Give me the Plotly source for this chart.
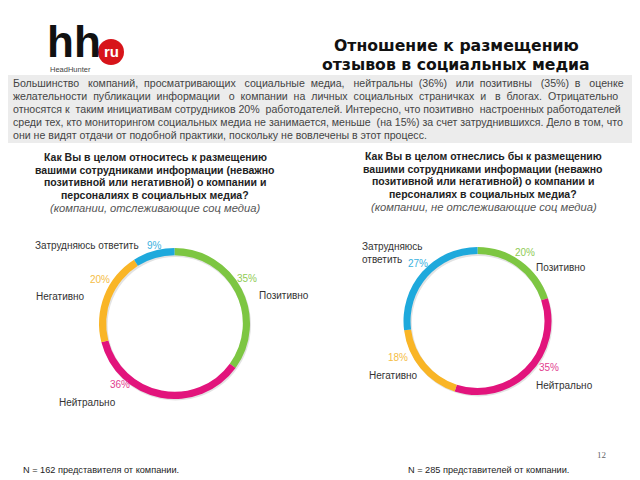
import plotly.graph_objects as go

W, H = 640, 480
OFF = 8  # page body margin of the browser


def px(x):
    return (x - OFF) / W


def py(y):
    return 1 - (y - OFF) / H


# ---------------- data ----------------
categories = ["Позитивно", "Нейтрально", "Негативно", "Затрудняюсь ответить"]
left_values = [35, 36, 20, 9]
right_values = [20, 35, 18, 27]
slice_colors = ["#7dc642", "#e2147c", "#f9b526", "#1ea9dc"]
label_colors = ["#8fcb55", "#e2408f", "#f5bd45", "#3ab2e0"]

title_lines = ["Отношение к размещению", "отзывов в социальных медиа"]
body_lines = [
    "Большинство компаний, просматривающих социальные медиа, нейтральны (36%)  или позитивны (35%) в оценке",
    "желательности публикации информации о компании на личных социальных страничках и в блогах. Отрицательно",
    "относятся к таким инициативам сотрудников 20% работодателей. Интересно, что позитивно настроенных работодателей",
    "среди тех, кто мониторингом социальных медиа не занимается, меньше (на 15%) за счет затруднившихся. Дело в том, что",
    "они не видят отдачи от подобной практики, поскольку не вовлечены в этот процесс.",
]
left_question = [
    "Как Вы в целом относитесь к размещению",
    "вашими сотрудниками информации (неважно",
    "позитивной или негативной) о компании и",
    "персоналиях в социальных медиа?",
]
left_sub = "(компании, отслеживающие соц медиа)"
right_question = [
    "Как Вы в целом отнеслись бы к размещению",
    "вашими сотрудниками информации (неважно",
    "позитивной или негативной) о компании и",
    "персоналиях в социальных медиа?",
]
right_sub = "(компании, не отслеживающие соц медиа)"
footer_left = "N = 162 представителя от компании."
footer_right = "N = 285 представителей от компании."
page_number = "12"

# ---------------- figure ----------------
fig = go.Figure()

left_dom = dict(x=[px(99), px(250)], y=[py(399), py(248)])
right_dom = dict(x=[px(403), px(552)], y=[py(395), py(247)])

# faint ring shadows
for dom in (left_dom, right_dom):
    fig.add_trace(go.Pie(
        values=[1], labels=["shadow"], sort=False, hole=0.9, textinfo="none",
        showlegend=False, hoverinfo="skip",
        marker=dict(colors=["#e3e3e3"], line=dict(width=0)),
        domain=dict(x=[dom["x"][0] + 1 / W, dom["x"][1] + 1 / W],
                    y=[dom["y"][0] - 1.5 / H, dom["y"][1] - 1.5 / H]),
    ))

fig.add_trace(go.Pie(
    values=left_values, labels=categories, sort=False, direction="clockwise",
    rotation=0, hole=0.905, textinfo="none", showlegend=False,
    marker=dict(colors=slice_colors, line=dict(width=0)),
    domain=left_dom,
))
fig.add_trace(go.Pie(
    values=right_values, labels=categories, sort=False, direction="clockwise",
    rotation=0, hole=0.905, textinfo="none", showlegend=False,
    marker=dict(colors=slice_colors, line=dict(width=0)),
    domain=right_dom,
))

shapes = [
    dict(type="rect", xref="paper", yref="paper",
         x0=px(8), x1=px(632), y0=py(143), y1=py(75),
         fillcolor="#ececec", line=dict(width=0), layer="below"),
    dict(type="circle", xref="paper", yref="paper",
         x0=px(98), x1=px(124), y0=py(65), y1=py(39),
         fillcolor="#d7141a", line=dict(width=0)),
]

ann = []


def text(x, y, s, size=10.5, color="#333333", family="Liberation Sans, Arial, sans-serif",
         xanchor="left", bold=False, italic=False, align="left"):
    t = s
    if bold:
        t = "<b>" + t + "</b>"
    if italic:
        t = "<i>" + t + "</i>"
    ann.append(dict(x=px(x), y=py(y), xref="paper", yref="paper", text=t,
                    showarrow=False, xanchor=xanchor, yanchor="middle", align=align,
                    font=dict(size=size, color=color, family=family)))


def justify(line, extra):
    words = line.split()
    gaps = len(words) - 1
    if gaps <= 0 or extra <= 0:
        return " ".join(words)
    out = words[0]
    acc = 0
    for i in range(1, len(words)):
        target = round(extra * i / gaps)
        k = target - acc
        acc = target
        out += " " + "\u00a0" * k + words[i]
    return out


# logo
text(45, 42, "hh", size=44, color="#111111", bold=True)
text(111, 51, "ru", size=15, color="#ffffff", xanchor="center", bold=True)
text(48, 69, "HeadHunter", size=7.5, color="#444444")

# title
for i, line in enumerate(title_lines):
    text(456, 45 + i * 19, line, size=15.7, color="#111111",
         family="DejaVu Sans, Verdana, sans-serif", xanchor="center", bold=True)

# body (justified with non-breaking spaces)
extra_spaces = [17, 14, 3, 1, 0]
for i, line in enumerate(body_lines):
    text(11, 83 + i * 12.9, justify(line, extra_spaces[i]), size=10.6, color="#444444")

# questions
for i, line in enumerate(left_question):
    text(155, 157 + i * 12.6, line, size=10.5, color="#222222", xanchor="center", bold=True)
text(155, 208, left_sub, size=11.2, color="#555555", xanchor="center", italic=True)
for i, line in enumerate(right_question):
    text(483, 156 + i * 12.6, line, size=10.5, color="#222222", xanchor="center", bold=True)
text(484, 207, right_sub, size=11.2, color="#555555", xanchor="center", italic=True)

# left donut labels (Позитивно, Нейтрально, Негативно, Затрудняюсь)
left_name_pos = [(257, 295), (57, 402), (34, 296), (33, 245)]
left_pct_pos = [(247, 278), (120, 384), (100, 279), (154, 245)]
for i, cat in enumerate(categories):
    nx, ny = left_name_pos[i]
    text(nx, ny, cat, size=10, color="#333333")
    cx, cy = left_pct_pos[i]
    text(cx, cy, f"{left_values[i]}%", size=10, color=label_colors[i], xanchor="center")

# right donut labels
right_name_pos = [(534, 267), (534, 385), (367, 375), (360, 253)]
right_pct_pos = [(525, 252), (549, 367), (398, 357), (418, 263)]
for i, cat in enumerate(categories):
    nx, ny = right_name_pos[i]
    name = cat if i != 3 else cat.replace(" ", "<br>")
    text(nx, ny, name, size=10, color="#333333")
    cx, cy = right_pct_pos[i]
    text(cx, cy, f"{right_values[i]}%", size=10, color=label_colors[i], xanchor="center")

# footer
text(21, 470, footer_left, size=9.2, color="#222222")
text(406, 470, footer_right, size=9.2, color="#222222")
text(595, 455, page_number, size=9, color="#666666",
     family="Liberation Serif, Times New Roman, serif")

fig.update_layout(
    width=W, height=H, margin=dict(l=0, r=0, t=0, b=0),
    paper_bgcolor="#ffffff", plot_bgcolor="#ffffff",
    shapes=shapes, annotations=ann,
)

fig.write_html("out.html")
